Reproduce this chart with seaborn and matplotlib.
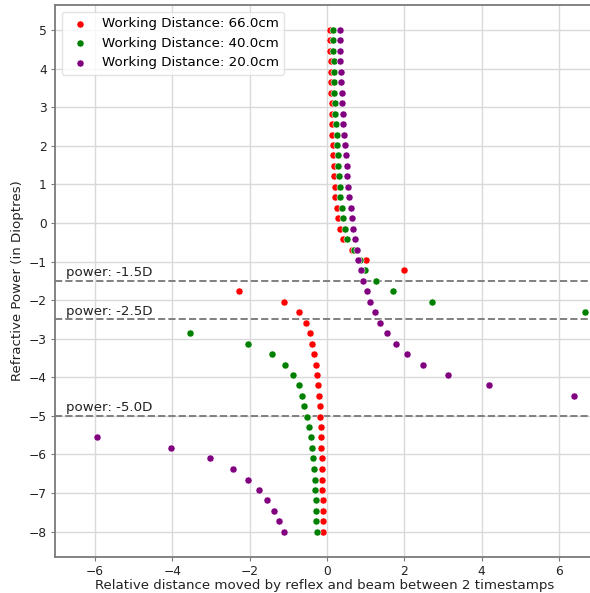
import numpy as np
import pandas as pd
import matplotlib
matplotlib.use("Agg")
import matplotlib.pyplot as plt
import seaborn as sns

# refractive power of each sample (dioptres), same for every working distance
power = [5.00, 4.73, 4.46, 4.19, 3.92, 3.65, 3.38, 3.10, 2.83, 2.56,
         2.29, 2.02, 1.75, 1.48, 1.21, 0.94, 0.67, 0.40, 0.13, -0.15,
         -0.42, -0.69, -0.96, -1.23, -1.50, -1.77, -2.04, -2.31, -2.58, -2.85,
         -3.13, -3.40, -3.67, -3.94, -4.21, -4.48, -4.75, -5.02, -5.29, -5.56,
         -5.83, -6.10, -6.38, -6.65, -6.92, -7.19, -7.46, -7.73, -8.00]

nan = np.nan
# relative distance moved by reflex and beam
dist_66 = [0.08, 0.08, 0.08, 0.10, 0.10, 0.10, 0.11, 0.12, 0.12, 0.13,
           0.14, 0.15, 0.16, 0.18, 0.19, 0.21, 0.22, 0.25, 0.28, 0.34,
           0.41, 0.66, 1.01, 1.99, nan, -2.27, -1.10, -0.72, -0.55, -0.44,
           -0.38, -0.33, -0.28, -0.25, -0.23, -0.21, -0.19, -0.17, -0.16, -0.16,
           -0.15, -0.14, -0.13, -0.13, -0.12, -0.11, -0.11, -0.11, -0.10]
dist_40 = [0.16, 0.16, 0.16, 0.17, 0.18, 0.19, 0.19, 0.21, 0.21, 0.23,
           0.25, 0.27, 0.28, 0.29, 0.31, 0.33, 0.35, 0.38, 0.41, 0.46,
           0.52, 0.70, 0.85, 0.98, 1.26, 1.71, 2.72, 6.67, nan, -3.54,
           -2.03, -1.41, -1.09, -0.88, -0.73, -0.65, -0.58, -0.51, -0.47, -0.41,
           -0.38, -0.35, -0.34, -0.32, -0.30, -0.28, -0.28, -0.27, -0.26]
dist_20 = [0.34, 0.34, 0.34, 0.34, 0.36, 0.37, 0.39, 0.40, 0.41, 0.42,
           0.45, 0.47, 0.49, 0.51, 0.53, 0.55, 0.58, 0.61, 0.65, 0.68,
           0.73, 0.78, 0.81, 0.87, 0.94, 1.03, 1.12, 1.24, 1.37, 1.54,
           1.78, 2.07, 2.49, 3.13, 4.19, 6.39, nan, nan, nan, -5.95,
           -4.03, -3.03, -2.44, -2.04, -1.76, -1.54, -1.37, -1.24, -1.12]

labels = ["Working Distance: 66.0cm", "Working Distance: 40.0cm", "Working Distance: 20.0cm"]
colors = ["red", "green", "purple"]
ref_powers = [-1.5, -2.5, -5.0]

fig = plt.figure(figsize=(5.9, 5.93), dpi=100)
ax = fig.add_axes([55 / 590, 1 - 556.7 / 593, 540 / 590, 551.7 / 593])

for dist, lab, col in zip([dist_66, dist_40, dist_20], labels, colors):
    df = pd.DataFrame({"x": dist, "y": power}).dropna()
    sns.scatterplot(data=df, x="x", y="y", color=col, label=lab, s=26,
                    edgecolor="white", linewidth=0.4, ax=ax, zorder=3)

for p in ref_powers:
    ax.axhline(p, color="gray", linestyle="--", linewidth=1.4, zorder=2)
    ax.text(-6.75, p + 0.04, f"power: {p}D", fontsize=9.6, va="bottom", color="#222222")

ax.set_xlim(-7.03, 6.93)
ax.set_ylim(-8.65, 5.65)
ax.set_xticks([-6, -4, -2, 0, 2, 4, 6])
ax.set_yticks(range(-8, 6))
ax.grid(True, color="#d9d9d9", linewidth=1.0)
ax.set_axisbelow(True)
for side in ["left", "bottom", "top"]:
    ax.spines[side].set_color("#7a7a7a")
    ax.spines[side].set_linewidth(1.3)
ax.spines["right"].set_visible(False)
ax.tick_params(colors="#7a7a7a", labelcolor="#222222", labelsize=8.8, length=3, pad=3)

ax.set_xlabel("Relative distance moved by reflex and beam between 2 timestamps",
              fontsize=9.6, color="#222222", labelpad=1)
ax.set_ylabel("Refractive Power (in Dioptres)", fontsize=9.6, color="#222222", labelpad=3)
ax.legend(loc="upper left", fontsize=9.6, markerscale=1.0, handletextpad=0.6,
          borderaxespad=0.5, framealpha=0.8, edgecolor="#dddddd")

fig.savefig("out.png", dpi=100)
